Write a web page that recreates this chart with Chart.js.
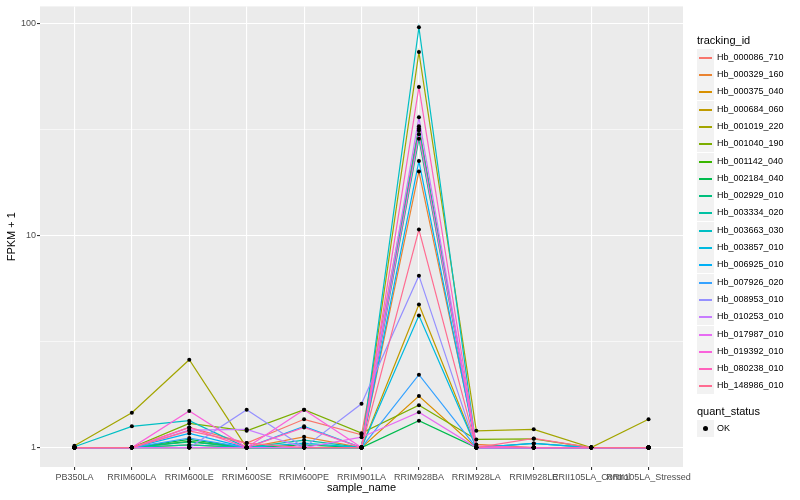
<!DOCTYPE html>
<html>
<head>
<meta charset="utf-8">
<script src="https://cdn.jsdelivr.net/npm/chart.js@4.4.0/dist/chart.umd.min.js"></script>
<style>
  html, body { margin: 0; padding: 0; background: #ffffff; }
  #wrap { position: relative; width: 800px; height: 500px; font-family: "Liberation Sans", Arial, sans-serif; }
  #chart { position: absolute; left: 0; top: 0; }
  .lg-title { position: absolute; left: 697px; font-size: 11px; color: #000; line-height: 13px; }
  .lg-item { position: absolute; left: 697px; height: 17px; }
  .lg-key { position: absolute; left: 0; top: 0; width: 17px; height: 17px; background: #F2F2F2; }
  .lg-line { position: absolute; left: 2px; top: 7.5px; width: 13px; height: 2px; }
  .lg-dot { position: absolute; left: 6px; top: 6px; width: 5px; height: 5px; border-radius: 3px; background: #000; }
  .lg-text { position: absolute; left: 20px; top: 0; font-size: 9px; line-height: 17px; color: #000; white-space: nowrap; }
</style>
</head>
<body>
<div id="wrap">
  <canvas id="chart" width="800" height="500"></canvas>
  <div id="legend"></div>
</div>
<script>
// sample names on the x axis
const sampleNames = ['PB350LA', 'RRIM600LA', 'RRIM600LE', 'RRIM600SE', 'RRIM600PE', 'RRIM901LA',
    'RRIM928BA', 'RRIM928LA', 'RRIM928LE', 'RRII105LA_Control', 'RRII105LA_Stressed'];

const trackingIds = ['Hb_000086_710', 'Hb_000329_160', 'Hb_000375_040', 'Hb_000684_060', 'Hb_001019_220',
    'Hb_001040_190', 'Hb_001142_040', 'Hb_002184_040', 'Hb_002929_010', 'Hb_003334_020',
    'Hb_003663_030', 'Hb_003857_010', 'Hb_006925_010', 'Hb_007926_020', 'Hb_008953_010',
    'Hb_010253_010', 'Hb_017987_010', 'Hb_019392_010', 'Hb_080238_010', 'Hb_148986_010'];

// FPKM + 1, one array per tracking_id
const hb_000086_710 = [1.0, 1.0, 1.245, 1.05, 1.36, 1.15, 32.9, 1.0, 1.0, 1.0, 1.0];
const hb_000329_160 = [1.0, 1.0, 1.03, 1.0, 1.124, 1.0, 20.1, 1.035, 1.0, 1.0, 1.0];
const hb_000375_040 = [1.0, 1.0, 1.0, 1.0, 1.0, 1.0, 1.75, 1.0, 1.0, 1.0, 1.0];
const hb_000684_060 = [1.0, 1.0, 1.0, 1.0, 1.0, 1.0, 4.74, 1.0, 1.0, 1.0, 1.0];
const hb_001019_220 = [1.02, 1.46, 2.6, 1.0, 1.0, 1.0, 73.6, 1.2, 1.22, 1.0, 1.36];
const hb_001040_190 = [1.0, 1.0, 1.30, 1.2, 1.51, 1.17, 1.585, 1.093, 1.1, 1.0, 1.0];
const hb_001142_040 = [1.0, 1.0, 1.07, 1.0, 1.0, 1.0, 31.4, 1.0, 1.0, 1.0, 1.0];
const hb_002184_040 = [1.0, 1.0, 1.093, 1.0, 1.03, 1.0, 1.34, 1.0, 1.0, 1.0, 1.0];
const hb_002929_010 = [1.0, 1.0, 1.065, 1.0, 1.0, 1.0, 28.7, 1.0, 1.046, 1.0, 1.0];
const hb_003334_020 = [1.0, 1.0, 1.03, 1.0, 1.085, 1.0, 32.1, 1.0, 1.0, 1.0, 1.0];
const hb_003663_030 = [1.01, 1.26, 1.34, 1.0, 1.0, 1.0, 96.3, 1.0, 1.0, 1.0, 1.0];
const hb_003857_010 = [1.0, 1.0, 1.0, 1.0, 1.05, 1.0, 4.2, 1.0, 1.0, 1.0, 1.0];
const hb_006925_010 = [1.0, 1.0, 1.166, 1.0, 1.26, 1.0, 22.5, 1.0, 1.046, 1.0, 1.0];
const hb_007926_020 = [1.0, 1.0, 1.11, 1.0, 1.0, 1.0, 2.21, 1.0, 1.0, 1.0, 1.0];
const hb_008953_010 = [1.0, 1.0, 1.0, 1.51, 1.0, 1.61, 6.48, 1.0, 1.0, 1.0, 1.0];
const hb_010253_010 = [1.0, 1.0, 1.21, 1.22, 1.0, 1.0, 36.2, 1.0, 1.0, 1.0, 1.0];
const hb_017987_010 = [1.0, 1.0, 1.0, 1.0, 1.0, 1.12, 1.47, 1.0, 1.0, 1.0, 1.0];
const hb_019392_010 = [1.0, 1.0, 1.49, 1.0, 1.51, 1.0, 30.1, 1.0, 1.0, 1.0, 1.0];
const hb_080238_010 = [1.0, 1.0, 1.245, 1.0, 1.245, 1.0, 50.3, 1.02, 1.0, 1.0, 1.0];
const hb_148986_010 = [1.0, 1.0, 1.2, 1.05, 1.0, 1.0, 10.7, 1.0, 1.105, 1.0, 1.0];

const seriesValues = [hb_000086_710, hb_000329_160, hb_000375_040, hb_000684_060, hb_001019_220,
    hb_001040_190, hb_001142_040, hb_002184_040, hb_002929_010, hb_003334_020,
    hb_003663_030, hb_003857_010, hb_006925_010, hb_007926_020, hb_008953_010,
    hb_010253_010, hb_017987_010, hb_019392_010, hb_080238_010, hb_148986_010];

const yMajorTicks = [1, 10, 100];
const yMinorTicks = [3.1623, 31.623];

// ggplot hue palette, 20 levels
const lineColors = ['#F8766D', '#EA8331', '#D89000', '#C09B00', '#A3A500', '#7CAE00', '#39B600',
    '#00BB4E', '#00BF7D', '#00C1A3', '#00BFC4', '#00BAE0', '#00B0F6', '#35A2FF', '#9590FF',
    '#C77CFF', '#E76BF3', '#FA62DB', '#FF62BC', '#FF6C91'];

const axisFont = { family: '"Liberation Sans", Arial, sans-serif', size: 9 };
const titleFont = { family: '"Liberation Sans", Arial, sans-serif', size: 11 };

const panelBackground = {
    id: 'panelBackground',
    beforeDraw(chart) {
        const { ctx, chartArea } = chart;
        ctx.save();
        ctx.fillStyle = '#EBEBEB';
        ctx.fillRect(chartArea.left, chartArea.top, chartArea.right - chartArea.left, chartArea.bottom - chartArea.top);
        ctx.restore();
    }
};

const datasets = seriesValues.map((vals, i) => ({
    label: trackingIds[i],
    data: vals.map((v, j) => ({ x: j, y: v })),
    borderColor: lineColors[i],
    borderWidth: 1.2,
    pointRadius: 0,
    fill: false,
    tension: 0,
    order: 21 - i
}));

// all points on top of all lines, like geom_point after geom_line
datasets.push({
    label: 'OK',
    data: seriesValues.flatMap(vals => vals.map((v, j) => ({ x: j, y: v }))),
    showLine: false,
    pointRadius: 2,
    pointBackgroundColor: '#000000',
    pointBorderWidth: 0,
    order: 0
});

const isMajor = v => yMajorTicks.some(m => Math.abs(m - v) < 1e-6);

new Chart(document.getElementById('chart').getContext('2d'), {
    type: 'line',
    data: { datasets: datasets },
    options: {
        responsive: false,
        animation: false,
        maintainAspectRatio: false,
        layout: { padding: { top: 5, right: 117, left: 0, bottom: 0 } },
        plugins: { legend: { display: false }, tooltip: { enabled: false } },
        scales: {
            x: {
                type: 'linear',
                min: -0.6,
                max: 10.6,
                afterBuildTicks: scale => { scale.ticks = sampleNames.map((n, i) => ({ value: i })); },
                afterFit: scale => { scale.height = 33; },
                border: { display: false },
                grid: { color: '#FFFFFF', lineWidth: 1.1, tickColor: '#333333', tickLength: 3 },
                ticks: {
                    autoSkip: false, maxRotation: 0, padding: 2, color: '#4D4D4D', font: axisFont,
                    callback: v => sampleNames[v]
                },
                title: { display: true, text: 'sample_name', color: '#000000', font: titleFont, padding: { top: 0, bottom: 5 } }
            },
            y: {
                type: 'logarithmic',
                min: 0.81,
                max: 120.9,
                afterBuildTicks: scale => {
                    scale.ticks = yMajorTicks.concat(yMinorTicks).sort((a, b) => a - b).map(v => ({ value: v }));
                },
                afterFit: scale => { scale.width = 40; },
                border: { display: false },
                grid: {
                    color: '#FFFFFF',
                    lineWidth: ctx => (ctx.tick && isMajor(ctx.tick.value)) ? 1.1 : 0.6,
                    tickColor: ctx => (ctx.tick && isMajor(ctx.tick.value)) ? '#333333' : 'rgba(0,0,0,0)',
                    tickLength: 3
                },
                ticks: {
                    padding: 1, color: '#4D4D4D', font: axisFont,
                    callback: v => isMajor(v) ? String(Math.round(v)) : ''
                },
                title: { display: true, text: 'FPKM + 1', color: '#000000', font: titleFont, padding: { top: 5, bottom: 0 } }
            }
        }
    },
    plugins: [panelBackground]
});

// legend, built from the same arrays
function renderLegend() {
    const box = document.getElementById('legend');
    let html = '<div class="lg-title" style="top:34px">tracking_id</div>';
    trackingIds.forEach((id, i) => {
        const top = Math.round(48.7 + i * 17.3);
        html += `<div class="lg-item" style="top:${top}px"><div class="lg-key"><div class="lg-line" style="background-color:${lineColors[i]}"></div></div><div class="lg-text">${id}</div></div>`;
    });
    html += '<div class="lg-title" style="top:405px">quant_status</div>';
    html += '<div class="lg-item" style="top:420px"><div class="lg-key"><div class="lg-dot"></div></div><div class="lg-text">OK</div></div>';
    box.innerHTML = html;
}

renderLegend();
</script>
</body>
</html>
